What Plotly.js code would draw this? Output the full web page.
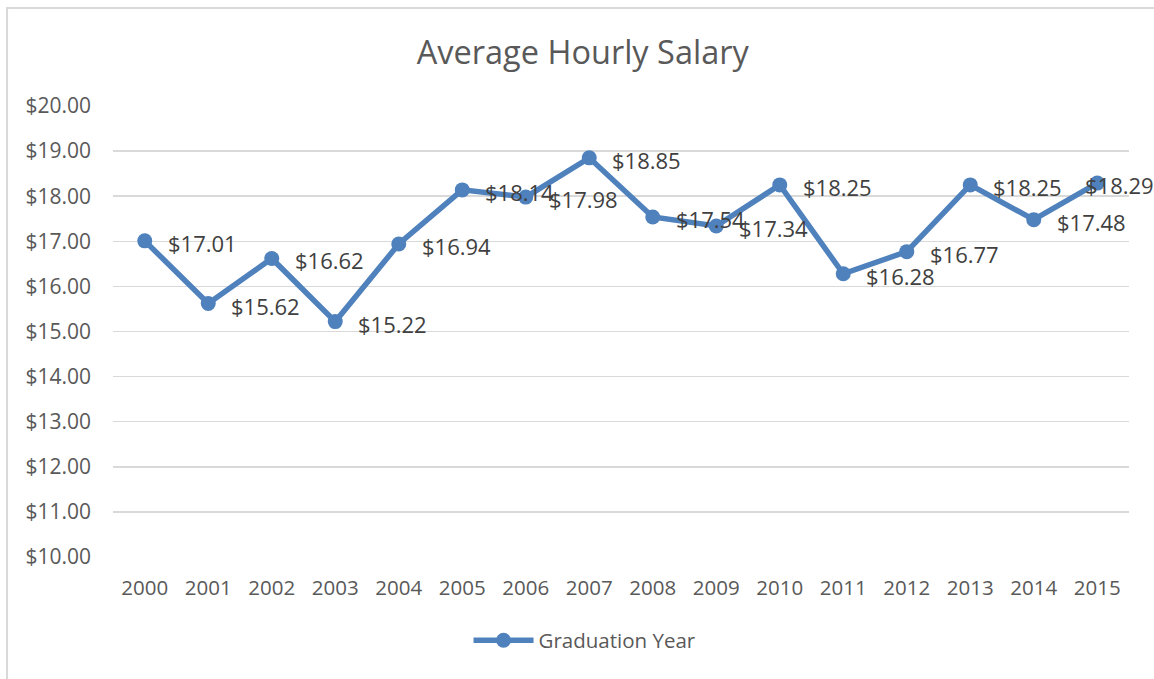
<!DOCTYPE html>
<html>
<head>
<meta charset="utf-8">
<script src="https://cdn.plot.ly/plotly-3.0.1.min.js"></script>
<style>
html,body{margin:0;padding:0;background:#fff;}
#chart{width:1154px;height:679px;}
</style>
</head>
<body>
<div id="chart"></div>
<script>
const years = ["2000","2001","2002","2003","2004","2005","2006","2007","2008","2009","2010","2011","2012","2013","2014","2015"];
const salary = [17.01,15.62,16.62,15.22,16.94,18.14,17.98,18.85,17.54,17.34,18.25,16.28,16.77,18.25,17.48,18.29];
const seriesName = "Graduation Year";
const chartTitle = "Average Hourly Salary";
const yTicks = [10,11,12,13,14,15,16,17,18,19,20];

const labels = salary.map(v => "$" + v.toFixed(2));
const fontFam = "'Open Sans', 'Noto Sans', sans-serif";

const trace = {
  x: years,
  y: salary,
  type: "scatter",
  mode: "lines+markers",
  name: seriesName,
  line: {color: "#4F81BD", width: 5.5},
  marker: {color: "#4F81BD", size: 15},
  cliponaxis: false
};

// data labels to the right of each point (last one pulled in to stay inside the chart)
const annotations = years.map((yr, i) => ({
  x: i,               // category index on the category axis
  y: salary[i],
  xref: "x", yref: "y",
  text: labels[i],
  showarrow: false,
  xanchor: "left",
  yanchor: "middle",
  xshift: i === years.length - 1 ? -14 : 21,
  yshift: -2,
  font: {family: fontFam, size: 22, color: "#404040"}
}));

const layout = {
  width: 1154,
  height: 679,
  margin: {l: 113, r: 25, t: 106, b: 122},
  paper_bgcolor: "#ffffff",
  plot_bgcolor: "#ffffff",
  font: {family: fontFam, color: "#595959"},
  title: {
    text: chartTitle,
    font: {family: fontFam, size: 32.5, color: "#595959"},
    x: 0.505, xref: "container", xanchor: "center",
    y: 53, yref: "container", yanchor: "middle"
  },
  xaxis: {
    type: "category",
    range: [-0.5, 15.5],
    showgrid: false,
    zeroline: false,
    showline: false,
    ticks: "",
    tickfont: {family: fontFam, size: 20.5, color: "#595959"},
    ticklabelstandoff: 16
  },
  yaxis: {
    range: [10, 20],
    tickvals: yTicks,
    ticktext: yTicks.map(v => "$" + v.toFixed(2)),
    showgrid: true,
    gridcolor: "#d9d9d9",
    gridwidth: 1.5,
    zeroline: false,
    showline: false,
    ticks: "",
    tickfont: {family: fontFam, size: 21, color: "#595959"},
    ticklabelstandoff: 21
  },
  showlegend: true,
  legend: {
    orientation: "h",
    x: 0.4646, xanchor: "center",
    y: -0.185, yanchor: "middle",
    font: {family: fontFam, size: 20.5, color: "#595959"},
    itemwidth: 60
  },
  annotations: annotations,
  shapes: [{
    type: "path",
    xref: "paper", yref: "paper",
    path: "M -0.1043 -0.4 L -0.1043 1.2173 L 1.2 1.2173",
    line: {color: "#d9d9d9", width: 2}
  }]
};

Plotly.newPlot("chart", [trace], layout, {displayModeBar: false, staticPlot: true});
</script>
</body>
</html>
